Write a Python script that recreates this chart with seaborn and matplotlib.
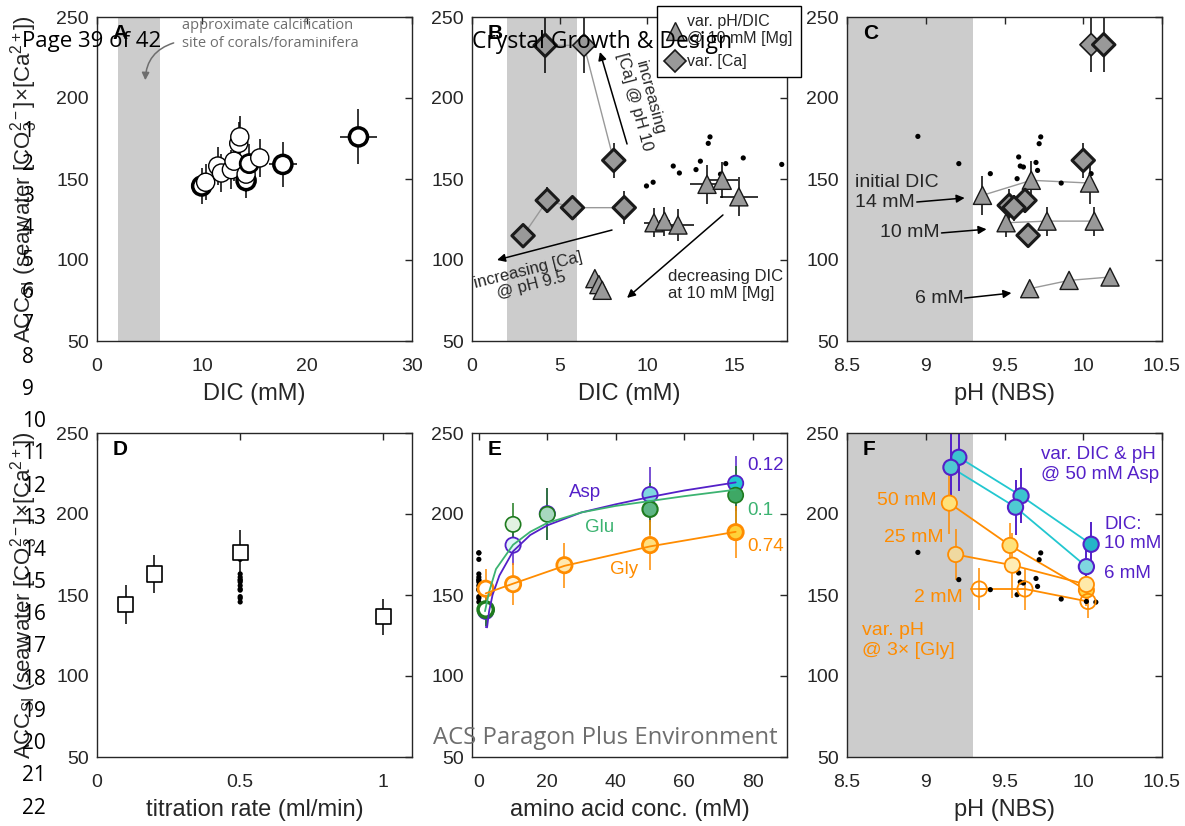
import numpy as np
import pandas as pd
import matplotlib
matplotlib.use("Agg")
import matplotlib.pyplot as plt
from matplotlib.lines import Line2D
import seaborn as sns

sns.set_style("white")
plt.rcParams['font.family'] = ['Liberation Sans', 'DejaVu Sans']
plt.rcParams['mathtext.fontset'] = 'custom'
plt.rcParams['mathtext.rm'] = 'Liberation Sans'
plt.rcParams['mathtext.it'] = 'Liberation Sans:italic'
plt.rcParams['mathtext.bf'] = 'Liberation Sans:bold'

W, H = 1185, 826
INK = '#262626'
GRAY_BAND = '#cccccc'
MARK_GRAY = '#999999'
PURPLE = '#5420c8'
GREEN = '#3cb371'
DKGREEN = '#1e7b1e'
ORANGE = '#ff8c00'
CYAN = '#22c7d0'

# ---- panel A: reference titrations (DIC, ACC_SI) ----
dic_a = [9.97, 10.35, 11.5, 11.85, 12.8, 13.05, 13.5, 13.6, 14.2, 14.2, 14.5, 15.5, 17.7, 24.9]
val_a = [145.7, 148, 158, 153.7, 155.8, 161, 172, 176, 149, 153, 159.5, 163, 159, 176]
yerr_a = [11, 11, 12, 12, 12, 12, 13, 13, 11, 11, 12, 12, 14, 17]
xerr_a = [0.4, 0.4, 0.4, 0.4, 0.4, 0.4, 0.4, 0.4, 0.7, 0.4, 0.4, 0.4, 1.3, 1.8]
edge_a = [2.5, 1, 1, 1, 1, 1, 1, 1, 2.5, 1, 2.0, 1, 2.5, 2.5]

# ---- panel B: var. [Ca] and var. pH/DIC vs DIC ----
ca10_dic = [4.18, 6.4, 8.1]
ca10_val = [232.5, 232.5, 161.5]
ca10_err = [17, 17, 11]
ca95_dic = [2.92, 4.3, 5.74, 8.7]
ca95_val = [115, 136.8, 132.3, 132.3]
ca95_err = [6, 8, 7, 10]
tri_dic = [10.4, 11.0, 11.77, 13.43, 14.3, 15.25, 7.02, 7.25, 7.44]
tri_val = [123, 124, 121.6, 146.7, 149.2, 139, 88.5, 84.8, 81.3]
tri_yerr = [9, 9, 10, 12, 11, 12, 5, 5, 4]
tri_xerr = [0.6, 0.3, 0.9, 1.0, 0.9, 1.1, 0.3, 0.3, 0.3]

# ---- panel C: same experiments vs pH ----
ref_ph = [8.95, 9.21, 9.41, 9.59, 9.6, 9.62, 9.58, 9.70, 9.71, 9.72, 9.73, 9.86, 10.05, 10.02, 10.08]
ref_val = [176.3, 159.5, 153.3, 163.6, 158, 157.4, 150.2, 160.2, 155.3, 171.8, 176, 147.5, 153.3, 146, 145.6]
dic14_ph = [9.36, 9.67, 10.04]
dic14_val = [139.9, 149.2, 147.5]
dic14_err = [12, 12, 13]
dic10_ph = [9.51, 9.77, 10.07]
dic10_val = [123, 124, 124]
dic10_err = [9, 9, 9]
dic6_ph = [9.66, 9.91, 10.17]
dic6_val = [82.3, 87.4, 89.5]
dic6_err = [4, 4, 4]
dia_ph = [10.05, 10.13, 10.0, 9.63, 9.53, 9.56, 9.65]
dia_val = [232.9, 232.9, 161.5, 136.8, 133.7, 132.3, 115.2]
dia_err = [17, 17, 11, 8, 10, 8, 5]

# ---- panel D: titration rate ----
rate = [0.1, 0.2, 0.5, 1.0]
rate_val = [144, 163, 176, 136.6]
rate_err = [12, 12, 14, 11]

# ---- panel E: amino acids ----
asp_conc = [2, 10, 20, 50, 75]
asp_val = [139.9, 180.8, 200.2, 212, 219]
asp_err = [10, 12, 16, 17, 17]
asp_fill = ['#eef8fb', '#dff6f8', '#a7dcd0', '#7fd8e0', '#22c7d0']
glu_conc = [2, 10, 20, 50, 75]
glu_val = [141, 193.6, 199.8, 202.9, 211.6]
glu_err = [10, 13, 16, 16, 18]
glu_fill = ['#ffffff', '#e2f2e2', '#a8d8c0', '#5db585', '#3ea865']
gly_conc = [2, 10, 25, 50, 75]
gly_val = [153.9, 156.7, 168.4, 180.8, 188.8]
gly_err = [12, 13, 14, 15.5, 16]
gly_fill = ['#ffffff', '#fff3d6', '#ffe9b0', '#ffe080', '#ffd23a']
asp_fit_x = [2.4, 3, 4, 6, 10, 15, 20, 30, 40, 50, 60, 75]
asp_fit_y = [130, 140, 150, 162, 177, 187, 193, 201, 206, 210.5, 214.5, 219.5]
glu_fit_x = [1.8, 3, 5, 10, 15, 20, 30, 40, 50, 60, 75]
glu_fit_y = [140, 152, 166, 181, 189, 194.5, 201, 205, 208, 211, 215]
gly_fit_x = [2, 10, 25, 50, 75]
gly_fit_y = [151, 157, 168, 180, 189]

# ---- panel F: var. pH ----
asp10_ph = [9.21, 9.605, 10.05]
asp10_val = [235, 211.2, 181.3]
asp10_err = [21, 17, 14]
asp10_fill = ['#3cc4cf', '#3cc4cf', '#25b5c8']
asp6_ph = [9.16, 9.57, 10.02]
asp6_val = [228.8, 204.2, 167.5]
asp6_err = [21, 17, 12]
asp6_fill = ['#4fcad2', '#4fcad2', '#7fd6e0']
gly50_ph = [9.15, 9.535, 10.02]
gly50_val = [206.7, 180.6, 153]
gly50_err = [19, 14, 10]
gly50_fill = ['#ffe27a', '#ffe27a', '#ffd84a']
gly25_ph = [9.19, 9.55, 10.02]
gly25_val = [175, 168.4, 156.5]
gly25_err = [16, 20, 10]
gly25_fill = ['#efd9a0', '#ffedb5', '#ffe9a8']
gly2_ph = [9.34, 9.63, 10.03]
gly2_val = [153.7, 153.7, 146]
gly2_err = [13, 13, 10]


def style_axes(ax, xlim, xticks, xticklabels, xlabel):
    ax.set_xlim(xlim)
    ax.set_ylim(50, 250)
    ax.set_xticks(xticks)
    ax.set_xticklabels(xticklabels)
    ax.set_yticks([50, 100, 150, 200, 250])
    ax.tick_params(direction='in', top=True, right=True, length=5, width=1,
                   labelsize=14, colors=INK, pad=6)
    ax.tick_params(axis='x', pad=12)
    for s in ax.spines.values():
        s.set_color(INK)
        s.set_linewidth(1)
    ax.set_xlabel(xlabel, fontsize=17, color=INK, labelpad=6)
    ax.set_ylabel('')


def points(ax, x, y, fills, edge, size, marker='o', lw=1.0, z=3):
    if isinstance(fills, str):
        fills = [fills] * len(x)
    df = pd.DataFrame({'x': x, 'y': y, 'k': ['p%d' % i for i in range(len(x))]})
    sns.scatterplot(data=df, x='x', y='y', hue='k', palette=list(fills), marker=marker,
                    s=size, edgecolor=edge, linewidth=lw, legend=False, ax=ax, zorder=z)


def bars(ax, x, y, yerr, xerr=None, color='black', lw=1.1):
    ax.errorbar(x, y, yerr=yerr, xerr=xerr, fmt='none', ecolor=color,
                elinewidth=lw, capsize=0, zorder=2)


def link(ax, x, y, color, lw=1.0, z=1.5):
    sns.lineplot(x=x, y=y, ax=ax, color=color, lw=lw, sort=False, estimator=None, zorder=z)


def ref_dots(ax, x, y):
    sns.scatterplot(x=x, y=y, ax=ax, color='black', s=14, edgecolor='none', legend=False, zorder=2.5)


def arrow(ax, start, end):
    ax.annotate('', xy=end, xytext=start,
                arrowprops=dict(arrowstyle='-|>', color='black', lw=1.1, mutation_scale=12,
                                shrinkA=0, shrinkB=0), zorder=6)


def panel_label(ax, s):
    ax.text(0.05, 0.95, s, transform=ax.transAxes, fontsize=15, fontweight='bold',
            ha='left', va='center', color='black', zorder=7)


fig = plt.figure(figsize=(W / 100, H / 100), dpi=100)
ax_w, ax_h = 315 / W, 324 / H
cols = [97 / W, 472 / W, 847 / W]
rows = [1 - 341 / H, 1 - 757 / H]
axA = fig.add_axes([cols[0], rows[0], ax_w, ax_h])
axB = fig.add_axes([cols[1], rows[0], ax_w, ax_h])
axC = fig.add_axes([cols[2], rows[0], ax_w, ax_h])
axD = fig.add_axes([cols[0], rows[1], ax_w, ax_h])
axE = fig.add_axes([cols[1], rows[1], ax_w, ax_h])
axF = fig.add_axes([cols[2], rows[1], ax_w, ax_h])

# --- A ---
axA.axvspan(2, 6, color=GRAY_BAND, lw=0, zorder=0)
bars(axA, dic_a, val_a, yerr_a, xerr_a)
points(axA, dic_a, val_a, 'white', 'black', 170, lw=edge_a)
style_axes(axA, (0, 30), [0, 10, 20, 30], ['0', '10', '20', '30'], 'DIC (mM)')
axA.text(8.1, 239, 'approximate calcification\nsite of corals/foraminifera', fontsize=10.5,
         color='#6e6e6e', family=['Open Sans', 'DejaVu Sans'], ha='left', va='center',
         linespacing=1.25)
axA.annotate('', xy=(4.6, 211), xytext=(7.3, 234),
             arrowprops=dict(arrowstyle='-|>', color='#6e6e6e', lw=1.1, mutation_scale=11,
                             connectionstyle='arc3,rad=0.35', shrinkA=0, shrinkB=0))
panel_label(axA, 'A')

# --- B ---
axB.axvspan(2, 6, color=GRAY_BAND, lw=0, zorder=0)
ref_dots(axB, dic_a, val_a)
link(axB, ca10_dic, ca10_val, MARK_GRAY)
link(axB, ca95_dic, ca95_val, MARK_GRAY)
bars(axB, ca10_dic, ca10_val, ca10_err)
bars(axB, ca95_dic, ca95_val, ca95_err)
bars(axB, tri_dic, tri_val, tri_yerr, tri_xerr)
points(axB, tri_dic, tri_val, MARK_GRAY, '#1a1a1a', 170, marker='^', lw=1.0)
points(axB, ca10_dic, ca10_val, MARK_GRAY, '#1a1a1a', 130, marker='D', lw=[2.2, 1.2, 2.2])
points(axB, ca95_dic, ca95_val, MARK_GRAY, '#1a1a1a', 130, marker='D', lw=2.2)
style_axes(axB, (0, 18), [0, 5, 10, 15], ['0', '5', '10', '15'], 'DIC (mM)')
arrow(axB, (8.86, 171.6), (7.31, 228.4))
axB.text(9.7, 199, 'increasing\n[Ca] @ pH 10', rotation=-75, fontsize=12, ha='center',
         va='center', rotation_mode='anchor', linespacing=1.1)
arrow(axB, (8.0, 118.5), (1.43, 100))
axB.text(3.3, 89, 'increasing [Ca]\n@ pH 9.5', rotation=14, fontsize=12, ha='center',
         va='center', rotation_mode='anchor', linespacing=1.1)
arrow(axB, (14.34, 127.8), (8.86, 76.6))
axB.text(11.2, 84.6, 'decreasing DIC\nat 10 mM [Mg]', fontsize=12, ha='left', va='center',
         linespacing=1.2)
handles = [Line2D([], [], marker='^', ls='none', markersize=13, markerfacecolor=MARK_GRAY,
                  markeredgecolor='#1a1a1a'),
           Line2D([], [], marker='D', ls='none', markersize=11, markerfacecolor=MARK_GRAY,
                  markeredgecolor='#1a1a1a', markeredgewidth=1.2)]
leg = axB.legend(handles, ['var. pH/DIC\n@ 10 mM [Mg]', 'var. [Ca]'], loc='upper left',
                 bbox_to_anchor=(657 / W, 1 - 6 / H), bbox_transform=fig.transFigure,
                 fontsize=11.5, frameon=True, fancybox=False, edgecolor='black',
                 framealpha=1, borderaxespad=0, handletextpad=0.2, borderpad=0.5,
                 labelspacing=0.5, handlelength=1.2)
leg.get_frame().set_linewidth(1.0)
leg.set_zorder(10)
panel_label(axB, 'B')

# --- C ---
axC.axvspan(8.5, 9.3, color=GRAY_BAND, lw=0, zorder=0)
ref_dots(axC, ref_ph[:13], ref_val[:13])
for phs, vals, errs in [(dic14_ph, dic14_val, dic14_err), (dic10_ph, dic10_val, dic10_err),
                        (dic6_ph, dic6_val, dic6_err)]:
    link(axC, phs, vals, MARK_GRAY)
    bars(axC, phs, vals, errs)
    points(axC, phs, vals, MARK_GRAY, '#1a1a1a', 170, marker='^', lw=1.0)
bars(axC, dia_ph, dia_val, dia_err)
points(axC, dia_ph, dia_val, MARK_GRAY, '#1a1a1a', 130, marker='D',
       lw=[1.2, 2.2, 2.2, 2.2, 2.2, 2.2, 2.2])
style_axes(axC, (8.5, 10.5), [8.5, 9, 9.5, 10, 10.5], ['8.5', '9', '9.5', '10', '10.5'],
           'pH (NBS)')
axC.text(8.55, 141.7, 'initial DIC\n14 mM', fontsize=14, ha='left', va='center', linespacing=1.2)
arrow(axC, (8.943, 135.8), (9.247, 138.3))
axC.text(8.71, 116.7, '10 mM', fontsize=14, ha='left', va='center')
arrow(axC, (9.10, 116.7), (9.386, 119))
axC.text(8.93, 76.5, '6 mM', fontsize=14, ha='left', va='center')
arrow(axC, (9.247, 76.5), (9.544, 79.6))
panel_label(axC, 'C')

# --- D ---
sns.scatterplot(x=[0.5] * len(val_a), y=val_a, ax=axD, color='black', s=14,
                edgecolor='none', legend=False, zorder=2.5)
bars(axD, rate, rate_val, rate_err)
points(axD, rate, rate_val, 'white', 'black', 120, marker='s', lw=1.2)
style_axes(axD, (0, 1.1), [0, 0.5, 1], ['0', '0.5', '1'], 'titration rate (ml/min)')
panel_label(axD, 'D')

# --- E ---
sns.scatterplot(x=[0] * len(val_a), y=val_a, ax=axE, color='black', s=14,
                edgecolor='none', legend=False, zorder=2.5)
bars(axE, asp_conc, asp_val, asp_err, color=PURPLE)
points(axE, asp_conc, asp_val, asp_fill, PURPLE, 120, lw=1.3)
bars(axE, glu_conc, glu_val, glu_err, color=DKGREEN)
points(axE, glu_conc, glu_val, glu_fill, DKGREEN, 120, lw=[2.5, 1.2, 1.2, 1.5, 1.2])
bars(axE, gly_conc, gly_val, gly_err, color=ORANGE)
points(axE, gly_conc, gly_val, gly_fill, ORANGE, 120, lw=2.0)
link(axE, asp_fit_x, asp_fit_y, PURPLE, lw=1.3, z=4)
link(axE, glu_fit_x, glu_fit_y, GREEN, lw=1.3, z=4)
link(axE, gly_fit_x, gly_fit_y, ORANGE, lw=1.3, z=4)
style_axes(axE, (-2, 90), [0, 20, 40, 60, 80], ['0', '20', '40', '60', '80'],
           'amino acid conc. (mM)')
axE.text(31, 213, 'Asp', color=PURPLE, fontsize=13.5, ha='center', va='center')
axE.text(35.3, 191.5, 'Glu', color=GREEN, fontsize=13.5, ha='center', va='center')
axE.text(42.5, 166, 'Gly', color=ORANGE, fontsize=13.5, ha='center', va='center')
axE.text(78.5, 229.8, '0.12', color=PURPLE, fontsize=13.5, ha='left', va='center')
axE.text(78.5, 202, '0.1', color=GREEN, fontsize=13.5, ha='left', va='center')
axE.text(78.5, 180, '0.74', color=ORANGE, fontsize=13.5, ha='left', va='center')
panel_label(axE, 'E')

# --- F ---
axF.axvspan(8.5, 9.3, color=GRAY_BAND, lw=0, zorder=0)
ref_dots(axF, ref_ph, ref_val)
for phs, vals, errs, fill in [(gly50_ph, gly50_val, gly50_err, gly50_fill),
                              (gly25_ph, gly25_val, gly25_err, gly25_fill),
                              (gly2_ph, gly2_val, gly2_err, 'none')]:
    link(axF, phs, vals, ORANGE, lw=1.3)
    bars(axF, phs, vals, errs, xerr=[0.06, 0, 0] if fill == 'none' else None, color=ORANGE)
    if fill == 'none':
        sns.scatterplot(x=phs, y=vals, ax=axF, marker='o', s=120, facecolor='none',
                        edgecolor=ORANGE, linewidth=1.3, legend=False, zorder=3)
    else:
        points(axF, phs, vals, fill, ORANGE, 120, lw=1.3)
for phs, vals, errs, fill in [(asp10_ph, asp10_val, asp10_err, asp10_fill),
                              (asp6_ph, asp6_val, asp6_err, asp6_fill)]:
    link(axF, phs, vals, CYAN, lw=1.3)
    bars(axF, phs, vals, errs, color=PURPLE, lw=1.4)
    points(axF, phs, vals, fill, PURPLE, 120, lw=1.5)
style_axes(axF, (8.5, 10.5), [8.5, 9, 9.5, 10, 10.5], ['8.5', '9', '9.5', '10', '10.5'],
           'pH (NBS)')
axF.text(9.734, 230.6, 'var. DIC & pH\n@ 50 mM Asp', color=PURPLE, fontsize=13.5,
         ha='left', va='center', linespacing=1.2)
axF.text(10.133, 187.6, 'DIC:\n10 mM', color=PURPLE, fontsize=13.5, ha='left', va='center',
         linespacing=1.2)
axF.text(10.133, 163, '6 mM', color=PURPLE, fontsize=13.5, ha='left', va='center')
axF.text(8.69, 208.6, '50 mM', color=ORANGE, fontsize=14, ha='left', va='center')
axF.text(8.734, 185.2, '25 mM', color=ORANGE, fontsize=14, ha='left', va='center')
axF.text(8.924, 148.2, '2 mM', color=ORANGE, fontsize=14, ha='left', va='center')
axF.text(8.595, 121.9, 'var. pH\n@ 3\u00d7 [Gly]', color=ORANGE, fontsize=14, ha='left',
         va='center', linespacing=1.2)
panel_label(axF, 'F')

# shared y labels
ylab = r'ACC$_{\rm SI}$ (seawater [CO$_3^{2-}$]$\times$[Ca$^{2+}$])'
for r in rows:
    fig.text(24 / W, r + ax_h / 2, ylab, rotation=90, ha='center', va='center',
             fontsize=16, color=INK)

# manuscript page overlay
over = ['Open Sans', 'DejaVu Sans']
fig.text(22 / W, 1 - 42 / H, 'Page 39 of 42', fontsize=16, family=over, ha='left',
         va='center', color='black')
fig.text(472 / W, 1 - 42 / H, 'Crystal Growth & Design', fontsize=16.5, family=over,
         ha='left', va='center', color='black')
fig.text(433 / W, 1 - 738 / H, 'ACS Paragon Plus Environment', fontsize=17.2, family=over,
         ha='left', va='center', color='#6e6e6e')
for n in range(1, 23):
    y = 808 - (22 - n) * 32.2
    fig.text(22 / W, 1 - y / H, str(n), fontsize=15, family=over, ha='left', va='center',
             color='black')

fig.savefig('out.png', dpi=100)
